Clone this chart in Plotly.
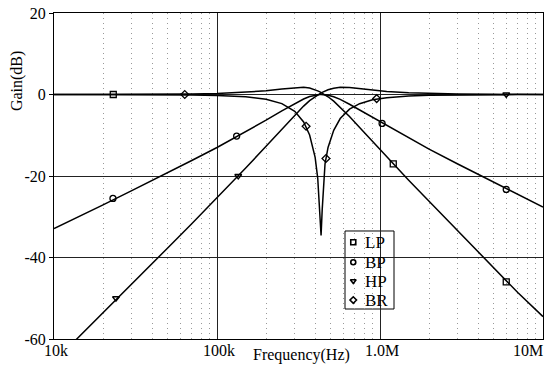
import plotly.graph_objects as go
import math

# ---- data ----
FREQ = [10e3, 15e3, 20e3, 30e3, 50e3, 70e3, 100e3, 150e3, 200e3, 250e3, 300e3, 340e3,
        370e3, 400e3, 415e3, 428e3, 435e3, 442e3, 450e3, 460e3, 480e3, 520e3, 570e3,
        650e3, 750e3, 900e3, 1.1e6, 1.5e6, 2e6, 3e6, 5e6, 7e6, 10e6]

LP = [0.0, 0.0, 0.0, 0.02, 0.06, 0.12, 0.24, 0.53, 0.9, 1.35, 1.7, 1.8,
      1.6, 1.2, 0.9, 0.65, 0.5, 0.35, 0.15, -0.07, -0.56, -1.64, -3.09,
      -5.41, -8.1, -11.57, -15.34, -21.04, -26.2, -33.37, -42.6, -48.6, -54.5]

BP = [-32.9, -29.6, -27.1, -23.6, -19.2, -16.2, -13.0, -9.2, -6.3, -4.0, -2.2, -1.1,
      -0.5, -0.15, -0.05, 0.0, 0.0, 0.0, -0.02, -0.05, -0.17, -0.55, -1.2,
      -2.4, -3.8, -5.7, -7.75, -10.75, -13.4, -17.05, -21.55, -24.5, -27.6]

HP = [-65.6, -58.6, -53.6, -46.5, -37.6, -31.7, -25.4, -18.05, -12.7, -8.45, -5.0, -2.85,
      -1.5, -0.5, -0.08, 0.23, 0.38, 0.52, 0.66, 0.85, 1.15, 1.55, 1.75,
      1.7, 1.45, 1.1, 0.75, 0.4, 0.22, 0.1, 0.04, 0.02, 0.01]

BR = [0.0, 0.0, 0.0, -0.02, -0.05, -0.1, -0.22, -0.57, -1.17, -2.24, -4.13, -6.75,
      -9.93, -15.44, -20.57, -30.7, -34.6, -28.3, -22.4, -17.0, -13.0, -8.8, -5.9,
      -3.6, -2.25, -1.3, -0.78, -0.37, -0.2, -0.09, -0.03, -0.02, -0.01]

# marker positions along each trace
LP_MK_F = [23.1e3, 1.206e6, 5.95e6]
LP_MK = [0.0, -17.0, -46.0]
BP_MK_F = [23e3, 132e3, 1.03e6, 5.95e6]
BP_MK = [-25.5, -10.2, -7.1, -23.3]
HP_MK_F = [24e3, 135e3, 5.95e6]
HP_MK = [-50.0, -20.0, 0.0]
BR_MK_F = [63.4e3, 352e3, 466e3, 954e3]
BR_MK = [0.0, -7.8, -15.7, -1.0]

SERIES_NAMES = ["LP", "BP", "HP", "BR"]
SYMBOLS = ["square-open", "circle-open", "triangle-down-open", "diamond-open"]

X_TICKS = [1e4, 1e5, 1e6, 1e7]
X_TICKTEXT = ["10k", "100k", "1.0M", "10M"]
Y_TICKS = [-60, -40, -20, 0, 20]
Y_TICKTEXT = ["-60", "-40", "-20", "0", "20"]
MINOR_X = [m * d for d in (1e4, 1e5, 1e6) for m in range(2, 10)]

FONT = "Liberation Serif, Times New Roman, Times, serif"
XR = [4, 7]
YR = [-60, 20]

fig = go.Figure()

for vals in (LP, BP, HP, BR):
    fig.add_trace(go.Scatter(x=FREQ, y=vals, mode="lines",
                             line=dict(color="black", width=1.5),
                             showlegend=False, hoverinfo="skip"))

marks = [(LP_MK_F, LP_MK), (BP_MK_F, BP_MK), (HP_MK_F, HP_MK), (BR_MK_F, BR_MK)]
for name, (fx, fy), sym in zip(SERIES_NAMES, marks, SYMBOLS):
    fig.add_trace(go.Scatter(x=fx, y=fy, mode="markers", name=name, showlegend=False,
                             marker=dict(symbol=sym, size=6, color="black",
                                         line=dict(color="black", width=1.3))))

# ---- custom legend box (paper fractions) ----
LEG_X0, LEG_X1, LEG_Y0, LEG_Y1 = 0.5951, 0.6953, 0.092, 0.3313
LEG_ROWS = [0.2966, 0.2353, 0.1779, 0.1196]
LEG_SYM_X = 0.612
LEG_TXT_X = 0.6325

def paper_to_data(px, py):
    return 10 ** (XR[0] + (XR[1] - XR[0]) * px), YR[0] + (YR[1] - YR[0]) * py

shapes = [dict(type="rect", xref="paper", yref="paper", x0=LEG_X0, x1=LEG_X1,
               y0=LEG_Y0, y1=LEG_Y1, fillcolor="white",
               line=dict(color="black", width=1), layer="between")]

annotations = []
for name, sym, ry in zip(SERIES_NAMES, SYMBOLS, LEG_ROWS):
    sx, sy = paper_to_data(LEG_SYM_X, ry)
    fig.add_trace(go.Scatter(x=[sx], y=[sy], mode="markers", showlegend=False,
                             hoverinfo="skip",
                             marker=dict(symbol=sym, size=5, color="black",
                                         line=dict(color="black", width=1.6))))
    annotations.append(dict(x=LEG_TXT_X, y=ry, xref="paper", yref="paper", text=name,
                            showarrow=False, xanchor="left", yanchor="middle",
                            font=dict(family=FONT, size=17, color="black")))

for v, t in zip(X_TICKS, X_TICKTEXT):
    anchor = "right" if v == X_TICKS[-1] else "center"
    annotations.append(dict(x=math.log10(v), y=0, xref="x", yref="paper",
                            text=t, showarrow=False, xanchor=anchor, yanchor="top",
                            xshift=2, yshift=-1,
                            font=dict(family=FONT, size=16, color="black")))
annotations.append(dict(x=0.506, y=-0.048, xref="paper", yref="paper",
                        text="Frequency(Hz)", showarrow=False, xanchor="center",
                        yanchor="middle", font=dict(family=FONT, size=16, color="black")))
annotations.append(dict(x=-0.0757, y=0.791, xref="paper", yref="paper",
                        text="Gain(dB)", showarrow=False, textangle=-90,
                        xanchor="center", yanchor="middle",
                        font=dict(family=FONT, size=16, color="black")))

fig.update_layout(
    width=546, height=365,
    margin=dict(l=54, r=3, t=13, b=26),
    paper_bgcolor="white", plot_bgcolor="white",
    font=dict(family=FONT, size=16, color="black"),
    xaxis=dict(type="log", range=XR, tickmode="array", tickvals=X_TICKS,
               showticklabels=False, ticks="",
               showgrid=True, gridcolor="#222", gridwidth=1,
               showline=True, linecolor="black", linewidth=1, mirror=True,
               zeroline=False,
               minor=dict(tickmode="array", tickvals=MINOR_X, showgrid=True,
                          gridcolor="#999", griddash="1px,4px", gridwidth=1, ticks="")),
    yaxis=dict(range=YR, tickmode="array", tickvals=Y_TICKS, ticktext=Y_TICKTEXT,
               ticks="outside", ticklen=4, tickcolor="black",
               showgrid=True, gridcolor="#222", gridwidth=1,
               showline=True, linecolor="black", linewidth=1, mirror=True,
               zeroline=False, tickfont=dict(family=FONT, size=16, color="black")),
    shapes=shapes,
    annotations=annotations,
    showlegend=False,
)

fig.write_html("out.html")
